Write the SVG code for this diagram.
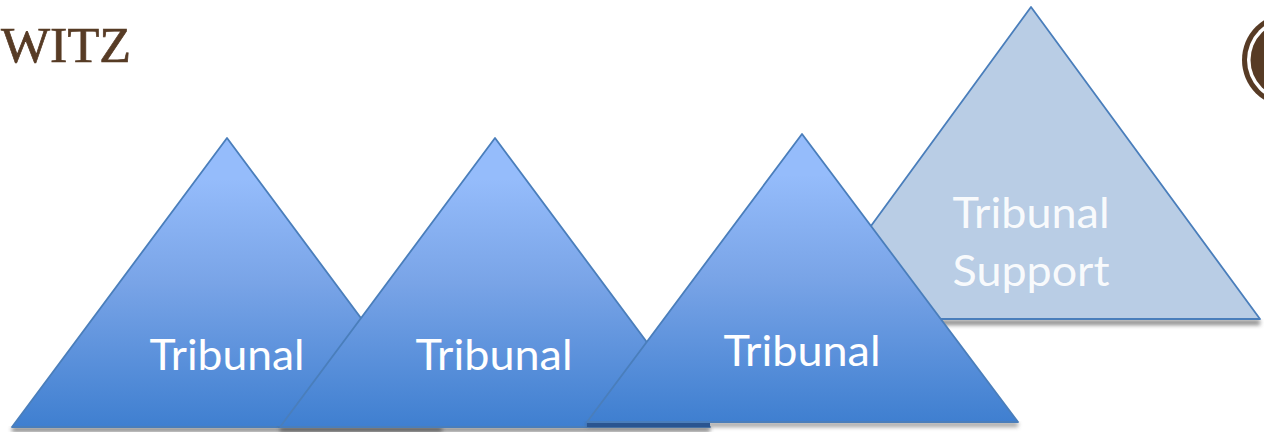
<svg xmlns="http://www.w3.org/2000/svg" width="1264" height="432" viewBox="0 0 1264 432">
<style>
.tri{fill:url(#g);stroke:#4a7ebb;stroke-width:1.8;stroke-linejoin:round}
.sup{fill:#b9cde5;stroke:#4a7ebb;stroke-width:1.8;stroke-linejoin:round}
.t{font-family:Lato,"Noto Sans",sans-serif;font-size:43px;fill:#fff;text-anchor:middle}
.logo{font-family:"Liberation Serif",serif;font-size:50px;fill:#573b25;stroke:#573b25;stroke-width:.7px}
</style>
<defs>
<linearGradient id="g" x1="0" y1="0" x2="0" y2="1">
<stop offset="0.14" stop-color="#95bcfb"/>
<stop offset="0.5" stop-color="#79a4e7"/>
<stop offset="1" stop-color="#3f7fd0"/>
</linearGradient>
<filter id="s" x="-10%" y="-10%" width="120%" height="300%"><feGaussianBlur stdDeviation="2"/></filter>
</defs>
<g id="logo-left"><text class="logo" x="1" y="62" textLength="130" lengthAdjust="spacingAndGlyphs">WITZ</text></g>
<g id="logo-right">
<circle cx="1289" cy="60" r="47" fill="#573b25"/>
<circle cx="1289" cy="60" r="42" fill="#fff"/>
<circle cx="1289" cy="60" r="38.500" fill="#573b25"/>
</g>
<g id="support">
<path d="M812 320H1260V325H812Z" fill="#444" opacity=".65" filter="url(#s)"/>
<path class="sup" d="M1031 7L1260 319H803Z"/>
<text class="t" x="1031" y="228" textLength="157" lengthAdjust="spacingAndGlyphs" style="fill-opacity:.92">Tribunal</text>
<text class="t" x="1031" y="286" textLength="157" lengthAdjust="spacingAndGlyphs" style="fill-opacity:.92">Support</text>
</g>
<g id="tribunal-1">
<path d="M12 427H442V432H12Z" fill="#333" opacity=".6" filter="url(#s)"/>
<path class="tri" d="M227 138L442 427H12Z"/>
<text class="t" x="227" y="370" textLength="155" lengthAdjust="spacingAndGlyphs">Tribunal</text>
</g>
<g id="tribunal-2">
<path d="M280 427H710V432H280Z" fill="#333" opacity=".6" filter="url(#s)"/>
<path class="tri" d="M495 138L710 427H280Z"/>
<text class="t" x="494" y="370" textLength="157" lengthAdjust="spacingAndGlyphs">Tribunal</text>
</g>
<g id="tribunal-3">
<path d="M587 422H1018V427H587Z" fill="#444" opacity=".5" filter="url(#s)"/>
<path d="M587 423H710V427H587Z" fill="#2a5590"/>
<path class="tri" d="M802 134L1018 422H587Z"/>
<text class="t" x="802" y="366" textLength="157" lengthAdjust="spacingAndGlyphs">Tribunal</text>
</g>
<g id="connectors"/>
</svg>
